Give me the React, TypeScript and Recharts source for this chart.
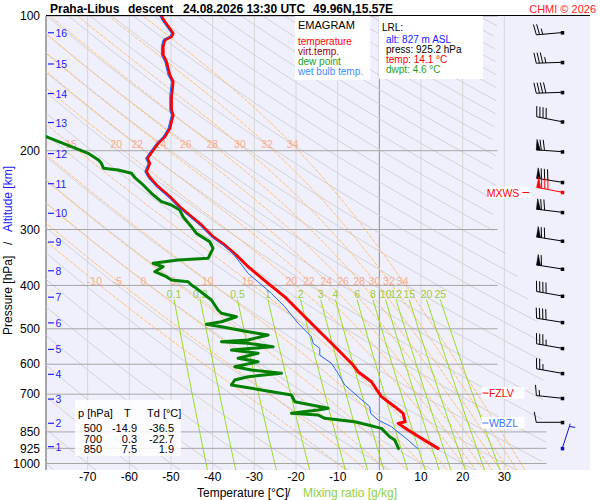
import React from "react";
import { ComposedChart, Scatter, XAxis, YAxis } from "recharts";

const FONT = '"Liberation Sans", Arial, Helvetica, sans-serif';
const LAVENDER = "#f0f0fd";

const T_MIN = -80;
const T_MAX = 50.56;
const P_TOP = 100;
const P_BOT = 1034;

// axes
const pressureTicks = [100, 200, 300, 400, 500, 600, 700, 850, 925, 1000];
const lowIsobars = [850, 925, 1000];
const tempTicks = [-70, -60, -50, -40, -30, -20, -10, 0, 10, 20, 30];

// altitude scale (km -> hPa)
const altKm = [1, 2, 3, 4, 5, 6, 7, 8, 9, 10, 11, 12, 13, 14, 15, 16];
const altP = [917, 813, 718, 632, 556, 485, 425, 371, 320, 276, 237, 203, 173, 149, 128, 109];

// temperature profile
const tempP = [100, 103, 109.3, 111.2, 113.1, 117.1, 122.2, 126.5, 135.5, 140.2, 151.4, 162.2, 166.4, 178.2, 186.1, 192.5, 199.3, 208.0, 213.4, 222.8, 229.6, 240.7, 255.4, 266.9, 280.9, 293.1, 311.3, 324.9, 345.1, 363.3, 395.7, 424.1, 469.9, 503.0, 538.8, 567.2, 602.6, 623.6, 656.5, 709.0, 746.5, 772.4, 806.5, 813.3, 841.7, 878.5, 925.2];
const tempT = [-52.3, -51.5, -49.5, -49.9, -51.5, -51.9, -51.9, -51.1, -50.3, -49.5, -49.9, -49.9, -49.5, -50.3, -51.5, -53.1, -54.3, -55.7, -55.1, -55.9, -55.1, -53.1, -49.9, -47.9, -45.1, -42.7, -39.9, -37.1, -33.9, -31.5, -26.7, -22.7, -17.9, -14.7, -11.5, -9.1, -6.3, -5.1, -1.9, 0.5, 3.7, 5.7, 6.2, 4.5, 6.9, 10.1, 14.1];

// dew point profile
const dewP = [182, 186.4, 192.5, 200.0, 202.7, 209.8, 213.4, 218.9, 220.8, 224.6, 230.1, 236.5, 249.0, 260.0, 264.5, 271.4, 280.9, 295.7, 306.0, 319.5, 330.5, 342.0, 347.9, 351.0, 357.0, 363.3, 372.8, 382.5, 389.0, 392.4, 399.2, 406.0, 431.1, 453.9, 461.7, 469.9, 482.1, 488.6, 494.7, 507.6, 516.3, 529.7, 534.3, 538.8, 548.3, 557.7, 567.2, 582.0, 592.3, 607.7, 618.2, 628.8, 639.7, 650.7, 667.7, 685.1, 703.0, 727.6, 740.1, 752.8, 759.3, 772.5, 779.1, 792.5, 806.5, 820.4, 834.5, 871.3, 886.3, 925.2];
const dewT = [-83.0, -79.7, -75.9, -71.5, -69.9, -67.4, -66.7, -66.2, -62.7, -59.5, -58.6, -57.1, -54.7, -52.3, -49.9, -47.9, -47.1, -45.1, -43.9, -40.7, -39.9, -40.7, -41.1, -48.3, -54.3, -51.9, -53.9, -51.1, -49.9, -45.9, -45.1, -43.9, -40.3, -38.7, -37.9, -34.3, -37.9, -41.5, -37.9, -31.5, -26.7, -31.5, -37.9, -31.5, -25.5, -35.5, -29.1, -33.9, -29.1, -34.7, -30.7, -23.5, -31.5, -34.7, -35.5, -28.3, -21.1, -20.3, -16.3, -12.3, -14.7, -21.1, -14.7, -13.1, -5.9, -2.7, 0.5, 2.5, 3.7, 4.6];

// wet bulb profile
const wbP = [100, 103, 109.3, 111.2, 113.1, 117.1, 122.2, 126.5, 135.5, 140.2, 151.4, 162.2, 166.4, 178.2, 186.1, 192.5, 199.3, 208.0, 213.4, 222.8, 229.6, 240.7, 255.4, 266.9, 280.9, 293.1, 311.3, 324.9, 338.5, 375.8, 416.7, 446.3, 486.1, 520.9, 538.8, 552.9, 572.2, 597.2, 628.8, 667.7, 709.0, 746.5, 772.4, 799.5, 827.5, 886.3, 925.2];
const wbT = [-52.7, -51.9, -49.9, -50.3, -51.9, -52.3, -52.3, -51.5, -50.7, -49.9, -50.3, -50.3, -49.9, -50.7, -51.9, -53.5, -54.7, -56.1, -55.5, -56.3, -55.5, -53.5, -50.3, -48.3, -45.5, -43.1, -40.3, -37.5, -35.2, -31.5, -25.9, -22.7, -19.5, -16.3, -15.9, -14.3, -14.3, -11.5, -9.9, -8.3, -5.1, -2.3, -2.1, -0.3, 2.9, 6.9, 9.1];

// wind (kt, deg)
const windP = [108.9, 126.9, 148.1, 172.3, 201.0, 235.3, 247.7, 274.6, 318.3, 367.6, 422.4, 483.6, 552.9, 628.8, 714.9, 809.0, 925.2];
const windDir = [265, 268, 268, 281, 274, 279, 281, 277, 279, 279, 280, 279, 280, 280, 276, 270, 18];
const windSpd = [25, 35, 40, 40, 70, 80, 80, 70, 70, 60, 40, 40, 35, 25, 15, 10, 5];
const maxWindIdx = 6;

// special levels
const levelNames = ["FZLV", "WBZL", "MXWS"];
const levelP = [696, 812, 248];
const levelColors = ["#ff0000", "#3377ff", "#ff0000"];

// table
const tablePressures = [500, 700, 850];
const tableT = [-14.9, 0.3, 7.5];
const tableTd = [-36.5, -22.7, 1.9];

// emagram grid families
const thetaLines = [-80, -70, -60, -50, -40, -30, -20, -10, 0, 10, 20, 30, 40, 50, 60, 70, 80, 90, 100, 110, 120, 130, 140, 150, 160, 170, 180, 190, 200, 210, 220, 230, 240, 250, 260, 270, 280, 290, 300, 310];
const thetaWLines = [-10, -5, 0, 5, 10, 15, 20, 22, 24, 26, 28, 30, 32, 34];
const mixingRatios = [0.1, 0.2, 0.5, 1, 2, 3, 4, 6, 8, 10, 12, 15, 20, 25];

// right edge of the grid drawing area
const boundP = [100, 301, 370, 417, 477, 558, 602, 1040];
const boundT = [28.3, 28.3, 33.4, 35.8, 38.2, 39.6, 40.3, 40.3];

type Pt = { p: number; t: number };

const RD = 287.04;
const CPD = 1005.7;
const LV = 2.501e6;
const EPS = 0.622;
const KAPPA = RD / CPD;

const esat = (tc: number) => 6.112 * Math.exp((17.67 * tc) / (tc + 243.5));
const dewFromVapour = (e: number) => {
  const a = Math.log(e / 6.112);
  return (243.5 * a) / (17.67 - a);
};
const logSteps = (p0: number, p1: number, n: number) =>
  Array.from({ length: n + 1 }, (_, i) => p0 * Math.pow(p1 / p0, i / n));

const zip = (ps: number[], ts: number[]): Pt[] => ps.map((p, i) => ({ p, t: ts[i] }));

function gridLimit(p: number) {
  for (let i = 1; i < boundP.length; i++) {
    if (p <= boundP[i]) {
      const a = Math.log(boundP[i - 1]);
      const b = Math.log(boundP[i]);
      const f = (Math.log(p) - a) / (b - a);
      return boundT[i - 1] + f * (boundT[i] - boundT[i - 1]);
    }
  }
  return boundT[boundT.length - 1];
}

function dryAdiabat(theta: number): Pt[] {
  const pts: Pt[] = [];
  for (const p of logSteps(P_TOP, 1040, 140)) {
    const t = (theta + 273.15) * Math.pow(p / 1000, KAPPA) - 273.15;
    if (t > gridLimit(p)) break;
    pts.push({ p, t });
  }
  return pts;
}

const moistRate = (tk: number, p: number) => {
  const es = esat(tk - 273.15);
  const rs = (EPS * es) / (p - es);
  return (RD * tk + LV * rs) / (CPD + (LV * LV * rs * EPS) / (RD * tk * tk));
};

function moistAdiabat(thw: number): Pt[] {
  const step = (tk: number, lp: number, h: number) => {
    const k1 = moistRate(tk, Math.exp(lp));
    const k2 = moistRate(tk + h * k1, Math.exp(lp + h));
    return tk + (h * (k1 + k2)) / 2;
  };
  const pts: Pt[] = [];
  const hb = Math.log(1040 / 1000);
  pts.push({ p: 1040, t: step(thw + 273.15, Math.log(1000), hb) - 273.15 });
  let tk = thw + 273.15;
  let lp = Math.log(1000);
  pts.push({ p: 1000, t: thw });
  const n = 100;
  const h = (Math.log(P_TOP) - Math.log(1000)) / n;
  for (let i = 0; i < n; i++) {
    tk = step(tk, lp, h);
    lp += h;
    pts.push({ p: Math.exp(lp), t: tk - 273.15 });
  }
  return pts;
}

function mixingLine(w: number): Pt[] {
  return logSteps(431, 1040, 24).map((p) => ({ p, t: dewFromVapour((w * p) / (622 + w)) }));
}

function tAt(line: Pt[], p: number) {
  for (let i = 1; i < line.length; i++) {
    const a = line[i - 1];
    const b = line[i];
    if ((p - a.p) * (p - b.p) <= 0) {
      const f = (Math.log(p) - Math.log(a.p)) / (Math.log(b.p) - Math.log(a.p));
      return a.t + f * (b.t - a.t);
    }
  }
  return NaN;
}

const dryLines = thetaLines.map(dryAdiabat).filter((l) => l.length > 1);
const moistLines = thetaWLines.map(moistAdiabat);
const mixLines = mixingRatios.map(mixingLine);

const moistLabels = [
  ...thetaWLines.map((v, i) => ({ p: 194, t: tAt(moistLines[i], 194), label: String(v) })).filter((d) => d.t > -78),
  ...thetaWLines.map((v, i) => ({ p: 391, t: tAt(moistLines[i], 391), label: String(v) })),
];
const mixLabels = mixingRatios.map((w, i) => ({ p: 418, t: mixLines[i][0].t, label: String(w) }));

const BARB_T = 43.9;
const windData = windP.map((p, i) => ({
  p,
  t: BARB_T,
  dir: windDir[i],
  spd: windSpd[i],
  color: i === maxWindIdx ? "#ff0000" : i === windP.length - 1 ? "#1010d0" : "#000",
}));
const altData = altP.map((p, i) => ({ p, t: T_MIN, km: altKm[i] }));
const levelData = levelNames.map((name, i) => ({
  p: levelP[i],
  t: name === "MXWS" ? 36.0 : 24.5,
  name,
  color: levelColors[i],
  side: name === "MXWS" ? "right" : "left",
}));

const Empty = () => <g />;

const lineSeries = (key: string, data: Pt[], stroke: string, width: number, dash?: string) => (
  <Scatter
    key={key}
    data={data}
    line={{ stroke, strokeWidth: width, strokeDasharray: dash, strokeLinejoin: "round", strokeLinecap: "round" }}
    lineType="joint"
    shape={Empty}
    isAnimationActive={false}
  />
);

function WindBarb(props: any) {
  const { cx, cy, payload } = props;
  const color = payload.color;
  const a = (payload.dir * Math.PI) / 180;
  const dx = Math.sin(a);
  const dy = -Math.cos(a);
  const px = -dy;
  const py = dx;
  const L = 26;
  const F = 10.5;
  const ex = cx + dx * L;
  const ey = cy + dy * L;
  const parts: React.ReactNode[] = [];
  let spd = payload.spd;
  let s = 0;
  let k = 0;
  while (spd >= 50) {
    const bx = ex - dx * s;
    const by = ey - dy * s;
    const ix = bx - dx * 4;
    const iy = by - dy * 4;
    parts.push(
      <polygon key={k++} points={`${bx},${by} ${bx + px * F},${by + py * F} ${ix},${iy}`} fill={color} stroke={color} strokeWidth={0.6} />
    );
    s += 5;
    spd -= 50;
  }
  while (spd >= 10) {
    const bx = ex - dx * s;
    const by = ey - dy * s;
    parts.push(
      <line key={k++} x1={bx} y1={by} x2={bx + px * F + dx * 2} y2={by + py * F + dy * 2} stroke={color} strokeWidth={1} />
    );
    s += 3.2;
    spd -= 10;
  }
  if (spd >= 5) {
    if (s === 0) s = 3;
    const bx = ex - dx * s;
    const by = ey - dy * s;
    parts.push(
      <line key={k++} x1={bx} y1={by} x2={bx + px * F * 0.55 + dx} y2={by + py * F * 0.55 + dy} stroke={color} strokeWidth={1} />
    );
  }
  return (
    <g>
      <line x1={cx} y1={cy} x2={ex} y2={ey} stroke={color} strokeWidth={1} />
      {parts}
      <rect x={cx - 1.5} y={cy - 1.5} width={3.5} height={3.5} fill={color} />
    </g>
  );
}

function AltTick(props: any) {
  const { cx, cy, payload } = props;
  return (
    <g>
      <line x1={cx + 2} x2={cx + 8} y1={cy} y2={cy} stroke="#2020ff" strokeWidth={1.2} />
      <text x={cx + 9.5} y={cy + 4} fontSize={10.5} fill="#2020ff" fontFamily={FONT}>
        {payload.km}
      </text>
    </g>
  );
}

function LevelTag(props: any) {
  const { cx, cy, payload } = props;
  if (payload.side === "left") {
    return (
      <g>
        <rect x={cx} y={cy - 6} width={43} height={11.5} fill="#fff" />
        <line x1={cx + 1} x2={cx + 7} y1={cy} y2={cy} stroke={payload.color} />
        <text x={cx + 7.5} y={cy + 4} fontSize={10.5} fill={payload.color} fontFamily={FONT}>
          {payload.name}
        </text>
      </g>
    );
  }
  return (
    <g>
      <rect x={cx - 42} y={cy - 6} width={43} height={11.5} fill="#fff" />
      <line x1={cx - 7} x2={cx} y1={cy} y2={cy} stroke={payload.color} />
      <text x={cx - 10} y={cy + 4} fontSize={10.5} fill={payload.color} textAnchor="end" fontFamily={FONT}>
        {payload.name}
      </text>
    </g>
  );
}

const textLabel = (color: string) => (props: any) => {
  const { cx, cy, payload } = props;
  return (
    <text x={cx} y={cy} dy="0.35em" textAnchor="middle" fontSize={10.5} fill={color} fontFamily={FONT}>
      {payload.label}
    </text>
  );
};
const MoistLabel = textLabel("#ffab8c");
const MixLabel = textLabel("#9ccc3c");

export default function App() {
  return (
    <div style={{ position: "relative", width: 600, height: 500, background: "#fff", fontFamily: FONT }}>
      <style>{`body{margin:0}`}</style>
      <div style={{ position: "absolute", left: 46, top: 16, width: 544, height: 454, background: LAVENDER }} />
      <div style={{ position: "absolute", left: 0, top: 0 }}>
        <ComposedChart width={600} height={500} margin={{ top: 16, right: 10, bottom: 0, left: 0 }}>
          <XAxis
            type="number"
            dataKey="t"
            domain={[T_MIN, T_MAX]}
            allowDataOverflow
            ticks={tempTicks}
            interval={0}
            height={30}
            tickLine={false}
            axisLine={false}
            tickSize={0}
            tickMargin={2}
            tick={{ fill: "#000", fontSize: 12 }}
          />
          <YAxis
            type="number"
            dataKey="p"
            scale="log"
            domain={[P_TOP, P_BOT]}
            reversed
            allowDataOverflow
            ticks={pressureTicks}
            interval={0}
            width={46}
            tickLine={false}
            tickSize={0}
            tickMargin={6}
            axisLine={{ stroke: "#555" }}
            tick={{ fill: "#000", fontSize: 12 }}
          />
          {tempTicks.map((t) =>
            lineSeries(`iso${t}`, [{ p: P_TOP, t }, { p: P_BOT, t }], t === 0 ? "#8c8c8c" : "#d6d6d6", 1)
          )}
          {dryLines.map((l, i) => lineSeries(`dry${i}`, l, "#d2d2d2", 1))}
          {moistLines.map((l, i) => lineSeries(`moist${i}`, l, "#ffbf73", 1, "3 2"))}
          {mixLines.map((l, i) => lineSeries(`mix${i}`, l, "#99dd22", 1))}
          {pressureTicks.map((p) =>
            lineSeries(`isobar${p}`, [{ p, t: T_MIN }, { p, t: lowIsobars.includes(p) ? 40 : 28.3 }], "#a6a6a6", 1)
          )}
          <Scatter data={moistLabels} shape={MoistLabel} isAnimationActive={false} />
          <Scatter data={mixLabels} shape={MixLabel} isAnimationActive={false} />
          {lineSeries("dew", zip(dewP, dewT), "#008000", 3)}
          {lineSeries("temp", zip(tempP, tempT), "#ff0000", 3)}
          {lineSeries("wetbulb", zip(wbP, wbT), "#1f66ff", 1)}
          <Scatter data={altData} shape={AltTick} isAnimationActive={false} />
          <Scatter data={levelData} shape={LevelTag} isAnimationActive={false} />
          <Scatter data={windData} shape={WindBarb} isAnimationActive={false} />
        </ComposedChart>
      </div>
      <svg
        width={600}
        height={500}
        style={{ position: "absolute", left: 0, top: 0, pointerEvents: "none" }}
        fontFamily={FONT}
      >
        <line x1={46} x2={590} y1={15.5} y2={15.5} stroke="#000" />
        <g fontSize={12} fontWeight="bold" fill="#000">
          <text x={50} y={13}>Praha-Libus</text>
          <text x={128} y={13}>descent</text>
          <text x={183} y={13}>24.08.2026 13:30 UTC</text>
          <text x={313} y={13}>49.96N,15.57E</text>
        </g>
        <text x={596} y={13} fontSize={11} fill="#ff2020" textAnchor="end">
          CHMI © 2026
        </text>

        <rect x={295} y={16} width={75} height={64} fill="#fff" />
        <text x={298} y={29} fontSize={11} fill="#000">EMAGRAM</text>
        <g fontSize={10}>
          <text x={298} y={44.5} fill="#ff0000">temperature</text>
          <text x={298} y={54.5} fill="#a00000">virt.temp.</text>
          <text x={298} y={64.5} fill="#22a022">dew point</text>
          <text x={298} y={74.5} fill="#3a8dff">wet bulb temp.</text>
        </g>

        <rect x={379} y={16} width={104} height={63} fill="#fff" />
        <g fontSize={10}>
          <text x={382} y={30.5} fill="#000">LRL:</text>
          <text x={386} y={42.5} fill="#2020ff">alt: 827 m ASL</text>
          <text x={386} y={52.5} fill="#000">press: 925.2 hPa</text>
          <text x={386} y={62.5} fill="#ff0000">temp: 14.1 °C</text>
          <text x={386} y={72.5} fill="#22a022">dwpt: 4.6 °C</text>
        </g>

        <rect x={75} y={400} width={106} height={56} fill="#fff" fillOpacity={0.85} />
        <g fontSize={11} fill="#000">
          <text x={78} y={417}>p [hPa]</text>
          <text x={124} y={417}>T</text>
          <text x={147} y={417}>Td [°C]</text>
          {tablePressures.map((p, i) => (
            <g key={p}>
              <text x={102} y={432 + i * 10.5} textAnchor="end">{p}</text>
              <text x={137} y={432 + i * 10.5} textAnchor="end">{tableT[i].toFixed(1)}</text>
              <text x={174} y={432 + i * 10.5} textAnchor="end">{tableTd[i].toFixed(1)}</text>
            </g>
          ))}
        </g>

        <g transform="rotate(-90)" fontSize={12}>
          <text x={-335} y={12} fill="#000">Pressure [hPa]</text>
          <text x={-245} y={12} fill="#000">/</text>
          <text x={-232} y={12} fill="#2020ff">Altitude [km]</text>
        </g>
        <g fontSize={12}>
          <text x={197} y={497} fill="#000">Temperature [°C]</text>
          <text x={287} y={497} fill="#000">/</text>
          <text x={303} y={497} fill="#8fd13a">Mixing ratio [g/kg]</text>
        </g>
      </svg>
    </div>
  );
}
